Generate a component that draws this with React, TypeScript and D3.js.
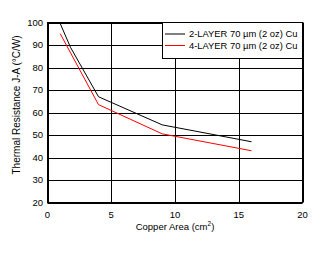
import React from "react";
import * as d3 from "d3";

const xTicks = [0, 5, 10, 15, 20];
const yTicks = [20, 30, 40, 50, 60, 70, 80, 90, 100];
const twoLayerX = [1, 1.8, 4, 9, 16];
const twoLayerY = [99.5, 89, 67, 54.5, 47];
const fourLayerX = [1, 4, 9, 16];
const fourLayerY = [95, 63.5, 50.5, 43];
const seriesNames = ["2-LAYER 70 µm (2 oz) Cu", "4-LAYER 70 µm (2 oz) Cu"];
const seriesColors = ["#000000", "#ff0000"];

export default function App() {
  const W = 331, H = 254;
  const left = 47.5, right = 302.5, top = 22.5, bottom = 202.5;
  const x = d3.scaleLinear().domain([0, 20]).range([left, right]);
  const y = d3.scaleLinear().domain([20, 100]).range([bottom, top]);
  const line = d3.line<[number, number]>().x(d => x(d[0])).y(d => y(d[1]));
  const s1 = twoLayerX.map((v, i) => [v, twoLayerY[i]] as [number, number]);
  const s2 = fourLayerX.map((v, i) => [v, fourLayerY[i]] as [number, number]);
  const font = "'Liberation Sans', Arial, sans-serif";
  return (
    <svg width={W} height={H} style={{ position: "absolute", left: 0, top: 0, background: "#fff" }} fontFamily={font}>
      {xTicks.map(t => (
        <line key={"gx" + t} x1={Math.round(x(t)) + 0.5} x2={Math.round(x(t)) + 0.5} y1={top} y2={bottom} stroke="#000" strokeWidth={1} />
      ))}
      {yTicks.map(t => (
        <line key={"gy" + t} x1={left} x2={right} y1={Math.round(y(t)) + 0.5} y2={Math.round(y(t)) + 0.5} stroke="#000" strokeWidth={1} />
      ))}
      <rect x={left} y={top} width={right - left} height={bottom - top} fill="none" stroke="#000" strokeWidth={1} />
      <path d={line(s1) || ""} fill="none" stroke={seriesColors[0]} strokeWidth={1} />
      <path d={line(s2) || ""} fill="none" stroke={seriesColors[1]} strokeWidth={1} />
      {yTicks.map(t => (
        <text key={"ty" + t} x={43} y={y(t) + 3.3} textAnchor="end" fontSize={9.5} fill="#000">{t}</text>
      ))}
      {xTicks.map(t => (
        <text key={"tx" + t} x={x(t)} y={217.5} textAnchor="middle" fontSize={9.5} fill="#000">{t}</text>
      ))}
      <text x={(left + right) / 2} y={229.5} textAnchor="middle" fontSize={9.5} fill="#000">
        Copper Area (cm<tspan dy={-4} fontSize={6.5}>2</tspan><tspan dy={4}>)</tspan>
      </text>
      <text transform={`translate(19.5, 105) rotate(-90)`} textAnchor="middle" fontSize={10} fill="#000">
        Thermal Resistance J-A (°C/W)
      </text>
      <rect x={162.5} y={top} width={right - 162.5} height={36} fill="#fff" stroke="#000" strokeWidth={1} />
      {seriesNames.map((n, i) => (
        <g key={n}>
          <line x1={165} x2={185} y1={34 + i * 11.5} y2={34 + i * 11.5} stroke={seriesColors[i]} strokeWidth={1} />
          <text x={189} y={37.3 + i * 11.5} fontSize={9.4} fill="#000">{n}</text>
        </g>
      ))}
    </svg>
  );
}
